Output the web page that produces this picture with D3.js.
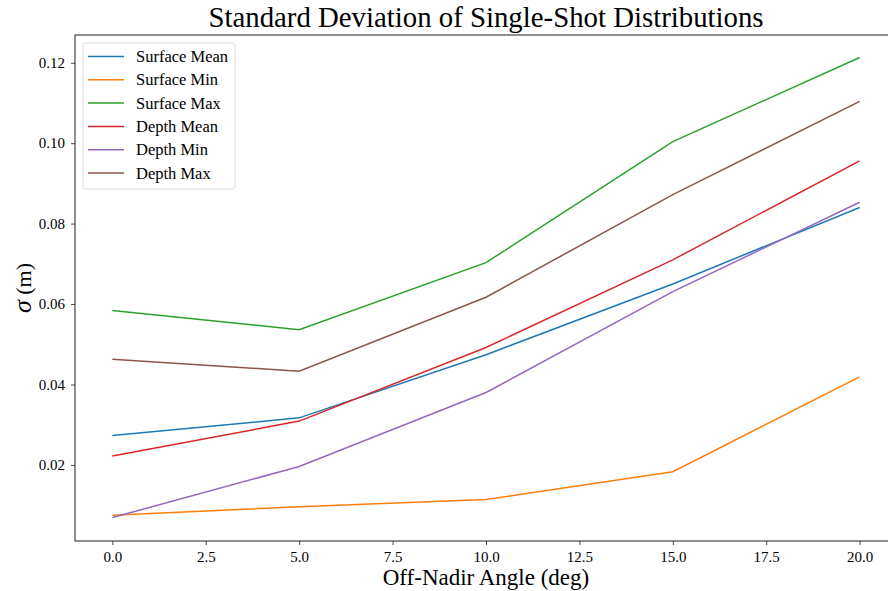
<!DOCTYPE html>
<meta charset="utf-8">
<style>
body { margin: 0; background: #fff; }
svg text { font-family: "Liberation Serif", "Times New Roman", serif; fill: #000; }
.series { fill: none; stroke-width: 1.5; }
</style>
<svg id="chart" width="888" height="591"></svg>
<script src="https://cdnjs.cloudflare.com/ajax/libs/d3/7.8.5/d3.min.js"></script>
<script>

var angles = [0, 5, 10, 15, 20];

var surfaceMean = [0.0273, 0.0317, 0.0474, 0.0650, 0.0840];
var surfaceMin  = [0.0075, 0.0096, 0.0114, 0.0183, 0.0419];
var surfaceMax  = [0.0584, 0.0536, 0.0703, 0.1004, 0.1213];
var depthMean   = [0.0222, 0.0309, 0.0492, 0.0710, 0.0956];
var depthMin    = [0.0069, 0.0196, 0.0380, 0.0631, 0.0853];
var depthMax    = [0.0463, 0.0433, 0.0617, 0.0872, 0.1104];

var seriesNames = ["Surface Mean", "Surface Min", "Surface Max", "Depth Mean", "Depth Min", "Depth Max"];
var seriesValues = [surfaceMean, surfaceMin, surfaceMax, depthMean, depthMin, depthMax];
var colors = ["#1f77b4", "#ff7f0e", "#2ca02c", "#d62728", "#9467bd", "#8c564b"];

var xTicks = [0, 2.5, 5, 7.5, 10, 12.5, 15, 17.5, 20];
var yTicks = [0.02, 0.04, 0.06, 0.08, 0.10, 0.12];

var svg = d3.select("#chart");
// plot area (right edge lies past the picture, as in the original)
var plotL = 75, plotR = 897, plotT = 35, plotB = 541;

var x = d3.scaleLinear().domain([-1, 21]).range([plotL, plotR]);
var y = d3.scaleLinear().domain([0.00108, 0.1269]).range([plotB, plotT]);

// axes
var xAxis = svg.append("g")
    .attr("transform", "translate(0," + plotB + ")")
    .call(d3.axisBottom(x).tickValues(xTicks).tickFormat(d3.format(".1f")).tickSizeOuter(0).tickSize(4).tickPadding(6));
var yAxis = svg.append("g")
    .attr("transform", "translate(" + plotL + ",0)")
    .call(d3.axisLeft(y).tickValues(yTicks).tickFormat(d3.format(".2f")).tickSizeOuter(0).tickSize(4).tickPadding(6));

[xAxis, yAxis].forEach(function(g) {
  g.attr("font-family", null).attr("font-size", null);
  g.select(".domain").remove();
  g.selectAll(".tick line").attr("stroke", "#333").attr("stroke-width", 0.9);
  g.selectAll(".tick text").style("font-size", "15px").attr("fill", "#000");
});

// frame
svg.append("rect")
    .attr("x", plotL).attr("y", plotT)
    .attr("width", plotR - plotL).attr("height", plotB - plotT)
    .attr("fill", "none").attr("stroke", "#333").attr("stroke-width", 1.1);

// lines
var line = d3.line()
    .x(function(d, i) { return x(angles[i]); })
    .y(function(d) { return y(d); });

svg.append("g").selectAll("path")
  .data(seriesValues)
  .enter().append("path")
    .attr("class", "series")
    .attr("stroke", function(d, i) { return colors[i]; })
    .attr("d", line);

// titles
svg.append("text")
    .attr("x", (plotL + plotR) / 2).attr("y", 27)
    .attr("text-anchor", "middle")
    .style("font-size", "28.8px")
    .text("Standard Deviation of Single-Shot Distributions");

svg.append("text")
    .attr("x", (plotL + plotR) / 2).attr("y", 585)
    .attr("text-anchor", "middle")
    .style("font-size", "23px")
    .text("Off-Nadir Angle (deg)");

var yl = svg.append("text")
    .attr("transform", "translate(31," + ((plotT + plotB) / 2) + ") rotate(-90)")
    .attr("text-anchor", "middle")
    .style("font-size", "22px");
yl.append("tspan").style("font-style", "italic").style("font-size", "26px").text("σ");
yl.append("tspan").text(" (m)");

// legend
var legend = svg.append("g").attr("transform", "translate(83,43)");
legend.append("rect")
    .attr("width", 152).attr("height", 146).attr("rx", 3)
    .attr("fill", "#fff").attr("fill-opacity", 0.8)
    .attr("stroke", "#ddd").attr("stroke-width", 1);

var item = legend.selectAll(".item")
  .data(seriesNames)
  .enter().append("g")
    .attr("transform", function(d, i) { return "translate(0," + (13.5 + i * 23.3) + ")"; });
item.append("line")
    .attr("x1", 5).attr("x2", 41)
    .attr("stroke", function(d, i) { return colors[i]; })
    .attr("stroke-width", 1.5);
item.append("text")
    .attr("x", 53).attr("y", 5.5)
    .style("font-size", "16.5px")
    .text(function(d) { return d; });

</script>
